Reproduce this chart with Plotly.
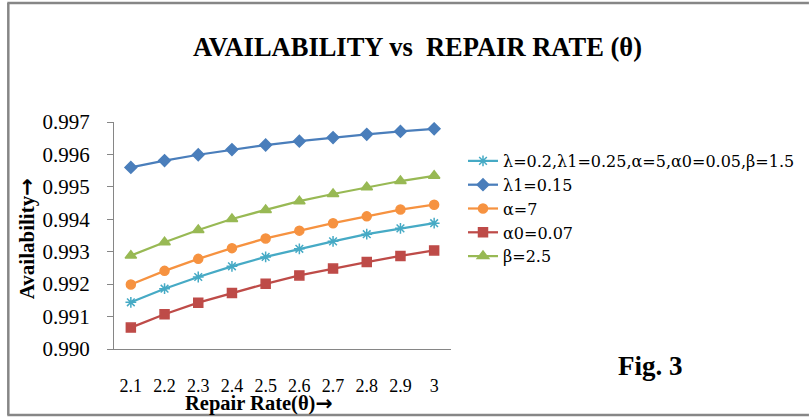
import plotly.graph_objects as go

repair_rate = ["2.1", "2.2", "2.3", "2.4", "2.5", "2.6", "2.7", "2.8", "2.9", "3"]

base = [0.99144, 0.99186, 0.99222, 0.99255, 0.99284, 0.99309, 0.99332, 0.99354, 0.99372, 0.99388]
lam1_015 = [0.99560, 0.99581, 0.99599, 0.99615, 0.99629, 0.99641, 0.99652, 0.99662, 0.99671, 0.99679]
alpha_7 = [0.99199, 0.99241, 0.99278, 0.99311, 0.99341, 0.99365, 0.99388, 0.99409, 0.99430, 0.99445]
alpha0_007 = [0.99066, 0.99107, 0.99143, 0.99173, 0.99201, 0.99227, 0.99248, 0.99268, 0.99287, 0.99304]
beta_25 = [0.99288, 0.99329, 0.99367, 0.99401, 0.99429, 0.99456, 0.99478, 0.99499, 0.99518, 0.99534]

series = [
    ("λ=0.2,λ1=0.25,α=5,α0=0.05,β=1.5", base, "#46AAC5", "asterisk-open", 9),
    ("λ1=0.15", lam1_015, "#4A7EBB", "diamond", 9),
    ("α=7", alpha_7, "#F69240", "circle", 9),
    ("α0=0.07", alpha0_007, "#BE4B48", "square", 9),
    ("β=2.5", beta_25, "#98B954", "triangle-up", 10),
]

SERIF = "Liberation Serif, Times New Roman, serif"
W, H = 811, 418
L, R, T, B = 114, 452, 122, 349

fig = go.Figure()
for name, vals, col, sym, sz in series:
    fig.add_trace(go.Scatter(
        x=repair_rate, y=vals, name=name, mode="lines+markers",
        line=dict(color=col, width=2.25),
        marker=dict(symbol=sym, size=sz, color=col, line=dict(color=col, width=1.5)),
    ))

def px(x):
    return (x - L) / (R - L)

def py(y):
    return (B - y) / (B - T)

border = dict(color="#868686", width=2.5)

fig.update_layout(
    width=W, height=H,
    margin=dict(l=L, r=W - R, t=T, b=H - B, pad=0),
    paper_bgcolor="white", plot_bgcolor="white",
    font=dict(family=SERIF, color="black"),
    showlegend=True,
    legend=dict(x=px(463), y=py(144), xanchor="left", yanchor="top",
                font=dict(family="DejaVu Serif", size=16, color="black"),
                itemwidth=30, tracegroupgap=0,
                bgcolor="rgba(0,0,0,0)"),
    xaxis=dict(type="category", range=[-0.5, len(repair_rate) - 0.5],
               showline=True, linecolor="#868686", linewidth=1.3,
               ticks="", showgrid=False, zeroline=False,
               tickfont=dict(family=SERIF, size=18, color="black"), ticklabelstandoff=20),
    yaxis=dict(range=[0.990, 0.997], dtick=0.001, tickformat=".3f",
               showline=True, linecolor="#868686", linewidth=1.3,
               ticks="outside", ticklen=6, tickcolor="#868686",
               showgrid=False, zeroline=False,
               tickfont=dict(family=SERIF, size=21, color="black"), ticklabelstandoff=13),
    shapes=[
        dict(type="line", xref="paper", yref="paper", x0=px(8), x1=px(8), y0=py(415), y1=py(3),
             line=border, layer="below"),
        dict(type="line", xref="paper", yref="paper", x0=px(7), x1=px(811), y0=py(3), y1=py(3),
             line=border, layer="below"),
        dict(type="line", xref="paper", yref="paper", x0=px(7), x1=px(811), y0=py(415), y1=py(415),
             line=border, layer="below"),
    ],
    annotations=[
        dict(text="<b>AVAILABILITY vs  REPAIR RATE (θ)</b>", xref="paper", yref="paper",
             x=px(418), y=py(47), xanchor="center", yanchor="middle",
             showarrow=False, font=dict(family=SERIF, size=26.5)),
        dict(text="<b>Availability<span style='font-family:DejaVu Sans'>→</span></b>",
             xref="paper", yref="paper",
             x=px(27), y=py(239), xanchor="center", yanchor="middle", textangle=-90,
             showarrow=False, font=dict(family=SERIF, size=21)),
        dict(text="<b>Repair Rate(θ)<span style='font-family:DejaVu Sans'>→</span></b>",
             xref="paper", yref="paper",
             x=px(259), y=py(403), xanchor="center", yanchor="middle",
             showarrow=False, font=dict(family=SERIF, size=20.5)),
        dict(text="<b>Fig. 3</b>", xref="paper", yref="paper",
             x=px(652), y=py(366), xanchor="center", yanchor="middle",
             showarrow=False, font=dict(family=SERIF, size=27)),
    ],
)

fig.write_html("out.html", config={"displayModeBar": False},
               post_script="document.body.style.margin='0';")
